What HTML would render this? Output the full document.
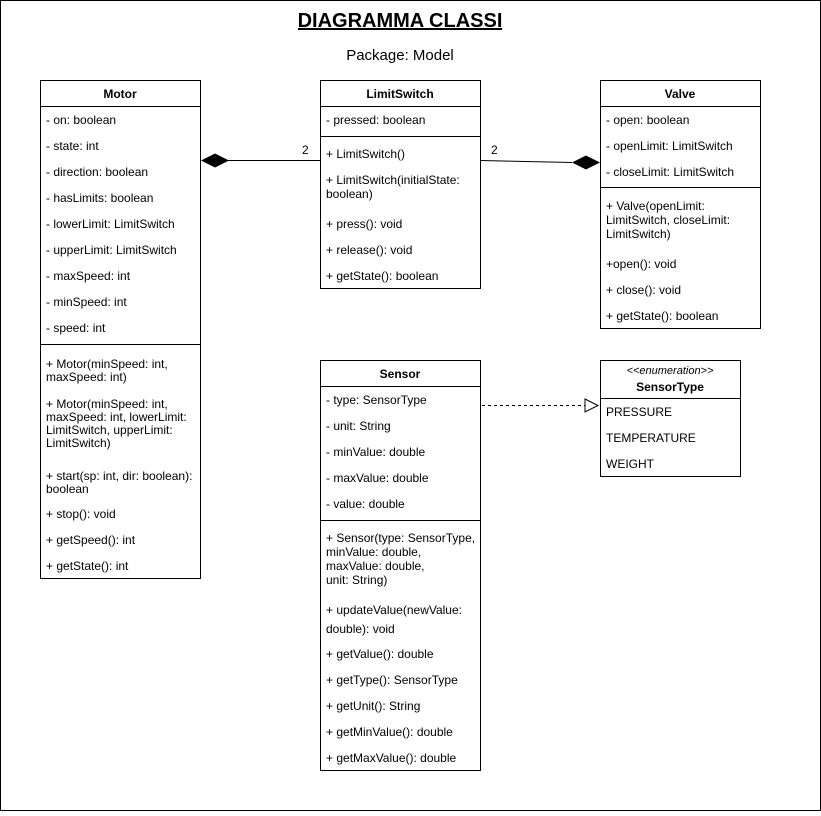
<!DOCTYPE html>
<html><head><style>html,body{margin:0;padding:0;background:#fff}</style></head><body>
<svg width="821" height="811" xmlns="http://www.w3.org/2000/svg" font-family="Liberation Sans, Arial, sans-serif" font-size="12" fill="#000">
<rect x="0.5" y="0.5" width="820" height="810" fill="#fff" stroke="#000"/>
<text x="400" y="27" font-size="20" font-weight="bold" text-anchor="middle">DIAGRAMMA CLASSI</text>
<line x1="298" y1="29" x2="502" y2="29" stroke="#000" stroke-width="2"/>
<text x="400" y="60" font-size="15" text-anchor="middle">Package: Model</text>
<g fill="none" stroke="#000">
<rect x="40.5" y="80.5" width="160" height="498"/><line x1="40" y1="106.5" x2="200" y2="106.5"/><line x1="40" y1="344.5" x2="200" y2="344.5"/>
<rect x="320.5" y="80.5" width="160" height="208"/><line x1="320" y1="106.5" x2="480" y2="106.5"/><line x1="320" y1="136.5" x2="480" y2="136.5"/>
<rect x="600.5" y="80.5" width="160" height="248"/><line x1="600" y1="106.5" x2="760" y2="106.5"/><line x1="600" y1="187.5" x2="760" y2="187.5"/>
<rect x="320.5" y="360.5" width="160" height="410"/><line x1="320" y1="386.5" x2="480" y2="386.5"/><line x1="320" y1="520.5" x2="480" y2="520.5"/>
<rect x="600.5" y="360.5" width="140" height="116"/><line x1="600" y1="398.5" x2="740" y2="398.5"/>
<line x1="228" y1="160.5" x2="320" y2="160.5"/>
<line x1="480" y1="160.5" x2="572" y2="162.5"/>
<line x1="482" y1="405.5" x2="585" y2="405.5" stroke-dasharray="3,3"/>
<polygon points="585,399 598,405.5 585,412" fill="#fff"/>
</g>
<polygon points="201,160.5 215,153.5 229,160.5 215,167.5" fill="#000"/>
<polygon points="572,162.5 586,155.5 600,162.5 586,169.5" fill="#000"/>
<text x="302" y="154">2</text><text x="491" y="154">2</text>
<g font-weight="bold" text-anchor="middle">
<text x="120" y="98">Motor</text><text x="400" y="98">LimitSwitch</text><text x="680" y="98">Valve</text><text x="400" y="378">Sensor</text><text x="670" y="391">SensorType</text>
</g>
<text x="670" y="374" text-anchor="middle" font-style="italic" font-size="11">&lt;&lt;enumeration&gt;&gt;</text>
<g transform="translate(0,1)">
<text x="46" y="123">- on: boolean</text><text x="46" y="149">- state: int</text><text x="46" y="175">- direction: boolean</text><text x="46" y="201">- hasLimits: boolean</text><text x="46" y="227">- lowerLimit: LimitSwitch</text><text x="46" y="253">- upperLimit: LimitSwitch</text><text x="46" y="279">- maxSpeed: int</text><text x="46" y="305">- minSpeed: int</text><text x="46" y="331">- speed: int</text>
<text x="46" y="367">+ Motor(minSpeed: int,</text><text x="46" y="380">maxSpeed: int)</text>
<text x="46" y="407">+ Motor(minSpeed: int,</text><text x="46" y="420">maxSpeed: int, lowerLimit:</text><text x="46" y="433">LimitSwitch, upperLimit:</text><text x="46" y="446">LimitSwitch)</text>
<text x="46" y="479">+ start(sp: int, dir: boolean):</text><text x="46" y="492">boolean</text>
<text x="46" y="517">+ stop(): void</text><text x="46" y="543">+ getSpeed(): int</text><text x="46" y="569">+ getState(): int</text>

<text x="326" y="123">- pressed: boolean</text><text x="326" y="157">+ LimitSwitch()</text><text x="326" y="183">+ LimitSwitch(initialState:</text><text x="326" y="197">boolean)</text><text x="326" y="227">+ press(): void</text><text x="326" y="253">+ release(): void</text><text x="326" y="279">+ getState(): boolean</text>

<text x="606" y="123">- open: boolean</text><text x="606" y="149">- openLimit: LimitSwitch</text><text x="606" y="175">- closeLimit: LimitSwitch</text>
<text x="606" y="209">+ Valve(openLimit:</text><text x="606" y="223">LimitSwitch, closeLimit:</text><text x="606" y="237">LimitSwitch)</text>
<text x="606" y="267">+open(): void</text><text x="606" y="293">+ close(): void</text><text x="606" y="319">+ getState(): boolean</text>

<text x="326" y="403">- type: SensorType</text><text x="326" y="429">- unit: String</text><text x="326" y="455">- minValue: double</text><text x="326" y="481">- maxValue: double</text><text x="326" y="507">- value: double</text>
<text x="326" y="541">+ Sensor(type: SensorType,</text><text x="326" y="555">minValue: double,</text><text x="326" y="569">maxValue: double,</text><text x="326" y="583">unit: String)</text>
<text x="326" y="613">+ updateValue(newValue:</text><text x="326" y="632">double): void</text>
<text x="326" y="657">+ getValue(): double</text><text x="326" y="683">+ getType(): SensorType</text><text x="326" y="709">+ getUnit(): String</text><text x="326" y="735">+ getMinValue(): double</text><text x="326" y="761">+ getMaxValue(): double</text>

<text x="606" y="415">PRESSURE</text><text x="606" y="441">TEMPERATURE</text><text x="606" y="467">WEIGHT</text>
</g>
</svg>
</body></html>
